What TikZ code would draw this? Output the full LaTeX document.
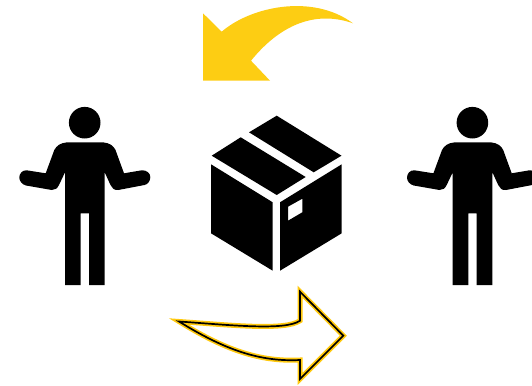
\documentclass[tikz,border=0pt]{standalone}
\definecolor{arrowgold}{HTML}{FDCD13}
\definecolor{linegold}{HTML}{FFC90E}
\tikzset{
  solidblack/.style={fill=black,draw=none},
  goldarrow/.style={fill=arrowgold,draw=none},
  person/.pic={
    \fill[black] (84.7,122.7) circle[radius=15.8];
    \fill[black] (66.7,142.4) -- (103.3,142.4)
      .. controls (110,143) and (113.5,146) .. (115.5,150)
      -- (124,173.3) -- (141.7,170.3)
      .. controls (146.5,170) and (150.3,173) .. (150.3,177)
      .. controls (150.3,181) and (148,184.3) .. (144.5,185)
      -- (118.3,190)
      .. controls (114,190.5) and (112,188) .. (110.5,185)
      -- (104.7,172.3) -- (104.7,285) -- (89,285) -- (89,213.3)
      -- (80.7,213.3) -- (80.7,285) -- (65,285) -- (65,172.3)
      -- (59,185)
      .. controls (57.5,188) and (55,190.5) .. (51.7,190)
      -- (26,185.5)
      .. controls (22,184.5) and (19.3,181) .. (19.3,177.5)
      .. controls (19.3,173.5) and (22.5,170) .. (26.7,170.3)
      -- (45.7,173.3) -- (54.3,150)
      .. controls (56.5,146) and (60,143) .. (66.7,142.4) -- cycle;
  }
}
\begin{document}
\begin{tikzpicture}[x=1pt,y=-1pt]
\useasboundingbox (0,0) rectangle (532,385);
\clip (0,0) rectangle (532,385);
% top arrow
\path[goldarrow] (203,13.3) -- (221.7,31.7)
  .. controls (250,7) and (312,-7) .. (353,23.3)
  .. controls (315,10) and (280,25) .. (251,60.7)
  -- (270,80.7) -- (203,80.7) -- cycle;
% people
\pic {person};
\pic[xshift=387.7pt] {person};
% box
\path[solidblack] (276.7,115.7) -- (341.5,155.7) -- (313.7,172.3) -- (249,132.3) -- cycle;
\path[solidblack] (240.7,137.3) -- (305.7,177) -- (276.7,195) -- (211.7,155.7) -- cycle;
\path[solidblack] (211,164.3) -- (272.7,202.3) -- (272.7,270.7) -- (211,233.3) -- cycle;
\path[solidblack,even odd rule] (341.7,164.3) -- (280,202.3) -- (280,270.7) -- (341.7,233.3) -- cycle
  (288,206.7) -- (302.3,198.7) -- (302.3,212.3) -- (288,220.7) -- cycle;
% bottom arrow
\def\bottomarrow{(179,321.5)
  .. controls (230,325) and (285,331) .. (300,320.7)
  -- (300,291.7) -- (343.3,335.7) -- (300,379) -- (300,360)
  .. controls (260,362) and (225,350) .. (179,321.5) -- cycle}
\draw[linegold,line width=5pt,fill=white,line join=miter,miter limit=12] \bottomarrow;
\draw[black,line width=1.7pt,line join=miter,miter limit=12] \bottomarrow;
\end{tikzpicture}
\end{document}
